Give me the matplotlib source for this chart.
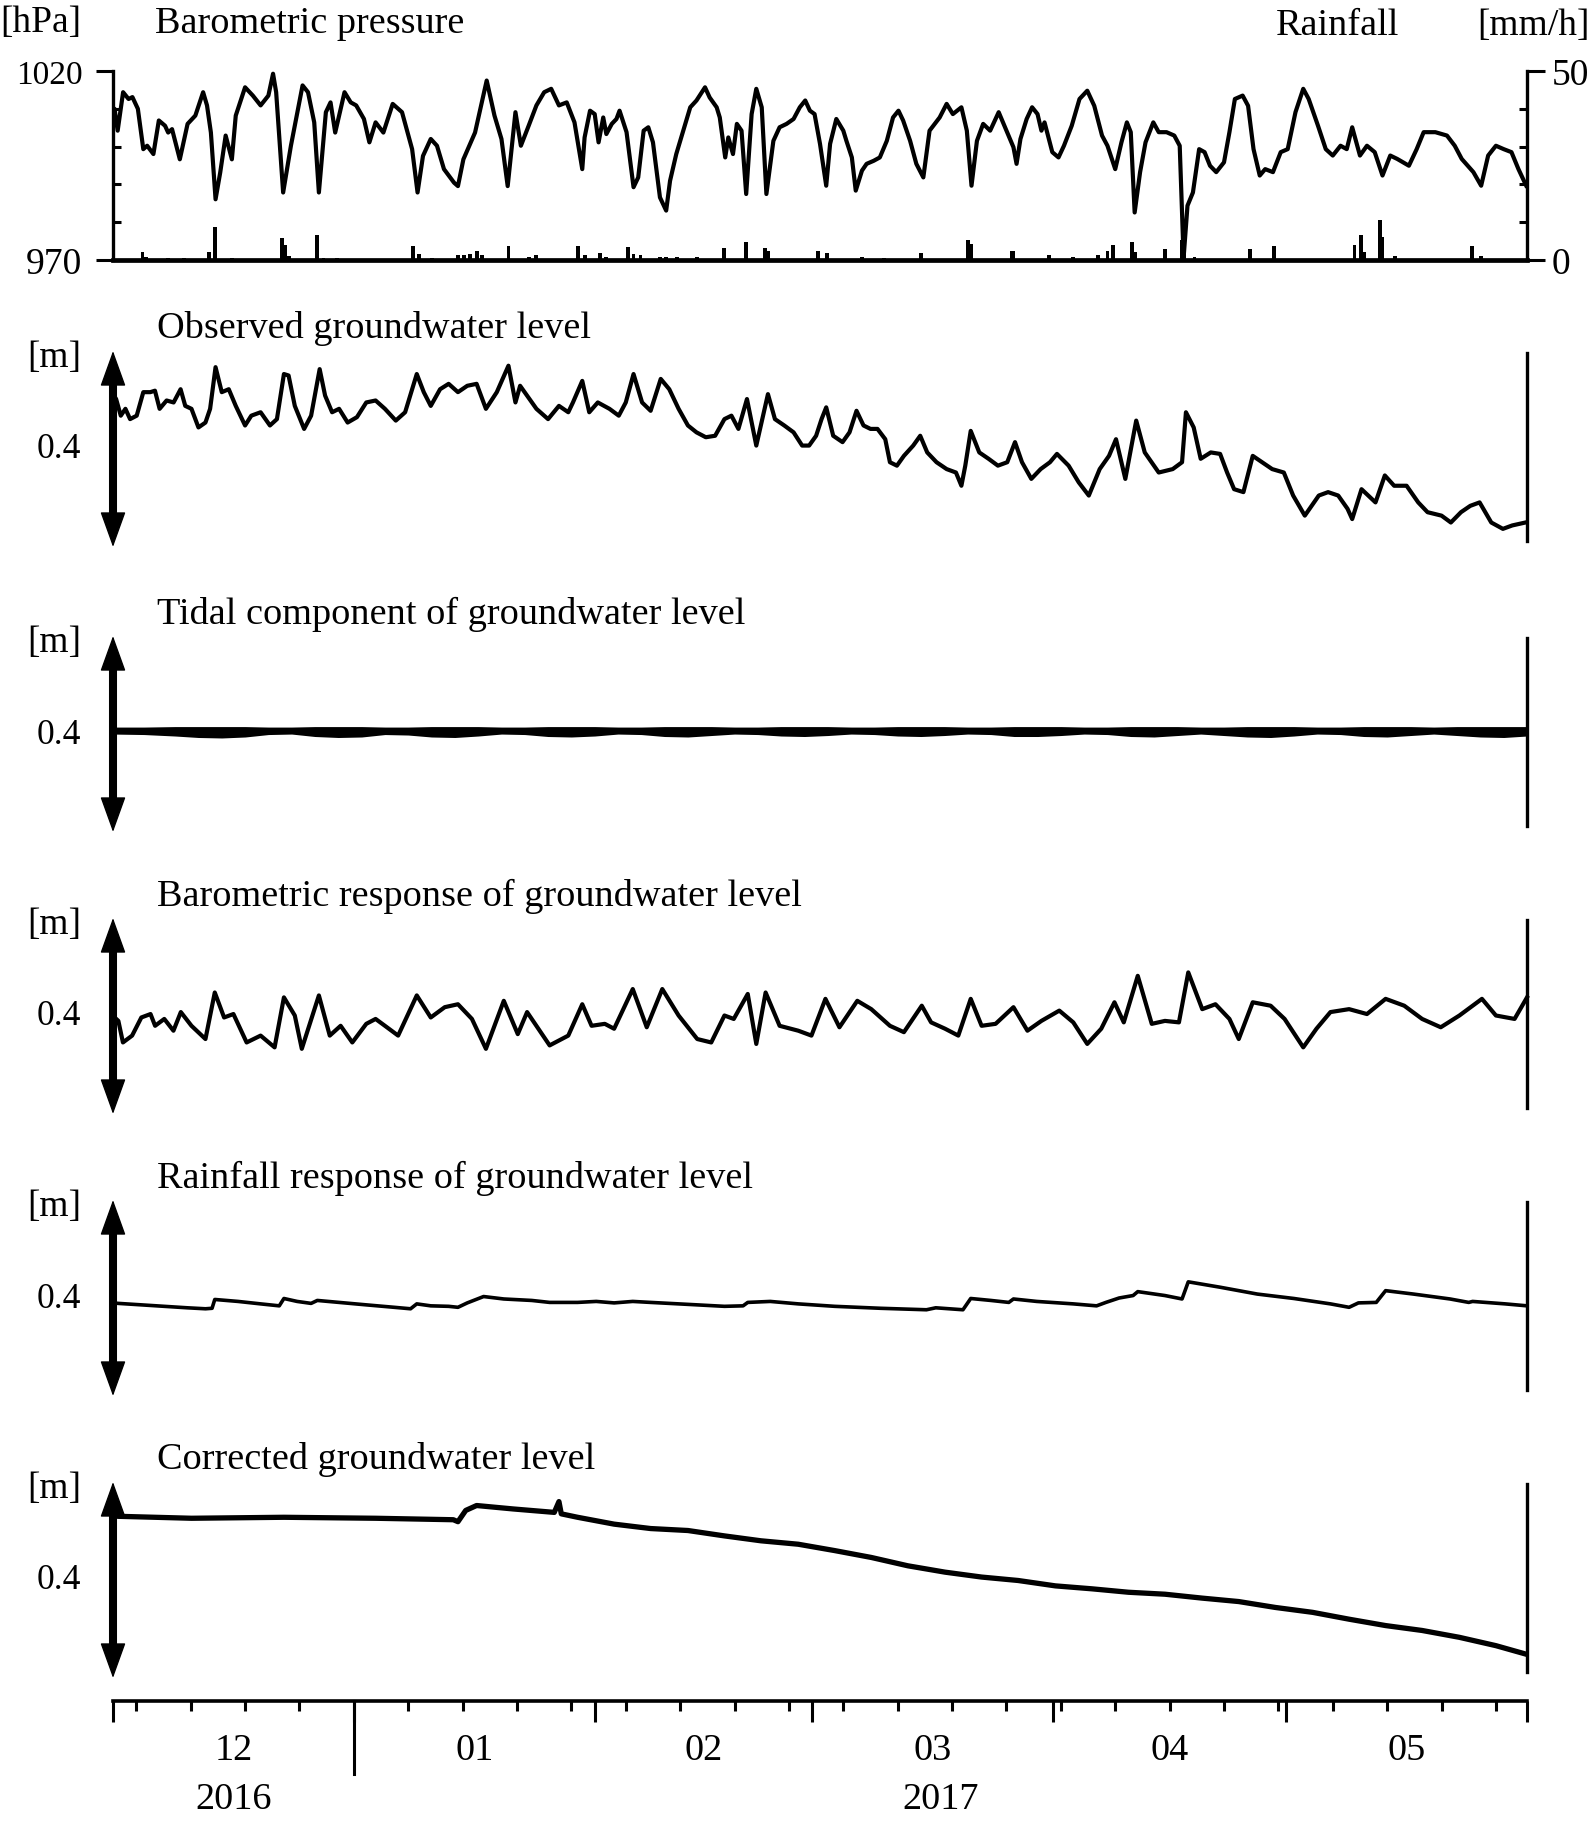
import matplotlib
matplotlib.use("Agg")
import matplotlib.pyplot as plt
import matplotlib.transforms as mtransforms
from matplotlib.lines import Line2D
import numpy as np

plt.rcParams['font.family'] = ['Liberation Serif', 'DejaVu Serif']

# ---- data (x = days since 2016-12-01) ----
# barometric pressure [hPa]
pressure = [
    (0.0, 1008.0), (0.2, 1010.0), (0.6, 1004.2), (1.3, 1014.4), (2.0, 1012.6), (2.5, 1013.1), (3.2, 1010.0),
    (3.9, 999.3), (4.4, 1000.2), (5.2, 998.0), (5.9, 1006.9), (6.7, 1005.5), (7.1, 1003.7), (7.6, 1004.6),
    (8.6, 996.6), (9.6, 1006.0), (10.6, 1008.2), (11.6, 1014.4), (12.1, 1010.9), (12.6, 1003.7), (13.2, 986.0),
    (13.8, 993.1), (14.5, 1002.9), (15.3, 996.6), (15.8, 1008.2), (17.0, 1015.7), (18.0, 1013.5), (19.0, 1010.9),
    (20.0, 1013.5), (20.6, 1019.3), (21.0, 1014.4), (21.9, 987.8), (22.9, 1000.2), (24.4, 1016.2), (25.1, 1014.4),
    (25.9, 1006.4), (26.5, 987.8), (27.4, 1009.1), (28.0, 1011.7), (28.6, 1003.7), (29.8, 1014.4), (30.6, 1011.7),
    (31.3, 1010.9), (32.3, 1007.3), (33.0, 1001.1), (33.8, 1006.4), (34.8, 1003.7), (36.0, 1011.3), (37.2, 1009.1),
    (38.5, 999.3), (39.2, 987.8), (39.9, 997.5), (40.9, 1002.0), (41.7, 1000.2), (42.6, 994.0), (43.9, 990.4),
    (44.4, 989.5), (45.1, 996.6), (46.6, 1003.7), (48.1, 1017.5), (49.1, 1008.2), (50.0, 1002.0), (50.8, 989.5),
    (51.8, 1009.1), (52.5, 1000.2), (53.5, 1005.5), (54.5, 1010.9), (55.5, 1014.4), (56.4, 1015.3), (57.4, 1010.9),
    (58.4, 1011.7), (59.4, 1006.4), (60.4, 994.0), (60.7, 1002.4), (61.4, 1009.5), (62.0, 1008.6), (62.5, 1001.1),
    (63.1, 1007.7), (63.5, 1003.3), (64.2, 1006.0), (64.8, 1007.3), (65.2, 1009.5), (66.1, 1003.8), (67.0, 989.2),
    (67.6, 991.8), (68.3, 1004.2), (68.9, 1005.1), (69.5, 1001.1), (70.4, 986.5), (71.2, 983.0), (71.7, 990.9),
    (72.5, 998.0), (73.4, 1004.2), (74.3, 1010.4), (75.1, 1012.2), (76.2, 1015.7), (76.8, 1013.0), (77.7, 1010.4),
    (78.1, 1007.7), (78.8, 997.1), (79.2, 1002.4), (79.8, 998.0), (80.3, 1006.0), (80.9, 1004.2), (81.5, 987.4),
    (82.2, 1008.6), (82.8, 1015.3), (83.5, 1010.4), (84.1, 987.4), (85.0, 1001.5), (85.8, 1005.1), (86.7, 1006.0),
    (87.6, 1007.3), (88.4, 1010.4), (89.1, 1012.2), (89.7, 1009.5), (90.3, 1008.6), (91.0, 1000.7), (91.8, 989.6),
    (92.3, 1000.7), (93.1, 1007.3), (94.0, 1004.2), (94.4, 1001.5), (95.1, 997.1), (95.6, 988.3), (96.4, 993.6),
    (97.0, 995.4), (97.9, 996.2), (98.7, 997.1), (99.6, 1001.5), (100.4, 1007.7), (101.1, 1009.5), (101.7, 1006.9),
    (102.6, 1001.5), (103.4, 995.4), (104.3, 991.8), (105.1, 1004.2), (106.4, 1007.7), (107.3, 1011.3),
    (108.1, 1008.6), (109.2, 1010.4), (109.9, 1004.2), (110.5, 989.6), (111.2, 1001.5), (112.0, 1006.0),
    (112.9, 1004.2), (114.0, 1009.1), (115.0, 1004.2), (115.9, 999.8), (116.3, 995.4), (116.8, 1002.0),
    (117.6, 1007.3), (118.3, 1010.4), (119.0, 1008.6), (119.5, 1004.2), (119.9, 1006.4), (120.9, 998.5),
    (121.7, 997.1), (122.4, 1000.2), (123.4, 1005.5), (124.4, 1012.6), (125.4, 1014.8), (126.3, 1010.8),
    (127.3, 1002.9), (128.0, 1000.2), (129.0, 994.0), (129.8, 1001.1), (130.5, 1006.4), (131.0, 1003.8),
    (131.5, 982.5), (132.2, 993.2), (132.9, 1001.1), (133.9, 1006.4), (134.6, 1003.8), (135.6, 1003.8),
    (136.6, 1002.9), (137.3, 1000.2), (137.8, 970.5), (138.3, 984.3), (139.0, 987.8), (139.8, 999.3),
    (140.5, 998.5), (141.2, 994.9), (142.0, 993.2), (143.0, 995.8), (143.7, 1003.8), (144.4, 1012.6),
    (145.4, 1013.5), (146.1, 1010.8), (146.8, 999.3), (147.6, 992.3), (148.3, 994.0), (149.3, 993.2),
    (150.3, 998.5), (151.2, 999.3), (152.2, 1009.1), (153.2, 1015.3), (153.9, 1012.6), (155.1, 1005.5),
    (156.1, 999.3), (157.0, 997.6), (158.0, 1000.2), (158.8, 999.3), (159.5, 1005.1), (160.5, 997.6),
    (161.4, 1000.2), (162.4, 998.5), (163.4, 992.3), (164.4, 997.6), (165.3, 996.7), (166.8, 994.9),
    (167.8, 999.3), (168.7, 1003.8), (170.2, 1003.8), (171.7, 1002.9), (172.7, 1000.2), (173.6, 996.7),
    (175.1, 993.2), (176.1, 989.6), (177.0, 997.6), (178.0, 1000.2), (179.0, 999.3), (180.0, 998.5),
    (180.9, 994.0), (181.9, 989.6),
]

# rainfall [mm/h]
rainfall = [
    (3.8, 1.9), (4.2, 0.8), (7.1, 0.4), (9.1, 0.4), (12.3, 1.9), (13.1, 8.6), (15.3, 0.4), (21.8, 5.7),
    (22.2, 4.0), (22.6, 1.0), (26.3, 6.6), (27.1, 0.5), (28.8, 0.4), (38.6, 3.5), (39.4, 1.6), (41.1, 0.5),
    (44.4, 1.3), (45.2, 1.2), (46.0, 1.4), (46.8, 2.2), (47.5, 1.3), (50.9, 3.7), (53.5, 0.8), (54.5, 1.3),
    (59.9, 3.5), (60.7, 1.2), (62.7, 1.7), (63.5, 0.8), (66.3, 3.4), (67.0, 1.5), (67.9, 1.3), (70.4, 0.8),
    (71.2, 0.8), (72.6, 0.8), (75.2, 0.6), (78.6, 3.2), (81.5, 4.8), (83.9, 3.2), (84.3, 2.3), (90.7, 2.2),
    (91.9, 1.7), (96.4, 0.8), (99.2, 0.4), (104.0, 1.7), (110.0, 5.3), (110.4, 4.1), (115.7, 2.4),
    (115.9, 2.2), (120.5, 1.3), (123.6, 0.6), (126.8, 1.3), (128.0, 2.2), (128.7, 4.0), (131.2, 4.6),
    (131.6, 2.0), (135.4, 2.7), (137.6, 5.3), (137.9, 3.5), (139.2, 0.7), (146.3, 2.7), (149.4, 3.7),
    (159.8, 4.0), (160.6, 6.6), (161.0, 2.0), (163.1, 10.6), (163.4, 6.0), (165.0, 1.0), (174.9, 3.7),
    (176.1, 1.0),
]

# groundwater series [m], relative to the bottom of each 0.4 m scale bar
observed = [
    (0.0, 0.312), (0.4, 0.302), (1.0, 0.268), (1.6, 0.282), (2.2, 0.261), (3.05, 0.268), (3.9, 0.316),
    (4.8, 0.316), (5.4, 0.319), (6.0, 0.282), (6.9, 0.299), (7.8, 0.295), (8.7, 0.322), (9.3, 0.288),
    (10.1, 0.282), (11.0, 0.244), (11.9, 0.254), (12.5, 0.282), (13.2, 0.367), (14.0, 0.316), (14.9, 0.322),
    (15.8, 0.288), (17.0, 0.248), (17.8, 0.268), (19.0, 0.275), (20.2, 0.248), (21.1, 0.261), (22.0, 0.353),
    (22.6, 0.350), (23.4, 0.288), (24.6, 0.241), (25.5, 0.268), (26.6, 0.363), (27.3, 0.309), (28.2, 0.275),
    (29.1, 0.282), (30.2, 0.254), (31.4, 0.265), (32.6, 0.295), (33.8, 0.299), (35.0, 0.282), (36.4, 0.258),
    (37.6, 0.275), (39.1, 0.353), (40.0, 0.316), (40.9, 0.288), (42.1, 0.322), (43.2, 0.333), (44.4, 0.316),
    (45.6, 0.329), (46.8, 0.333), (48.0, 0.282), (49.4, 0.316), (50.9, 0.370), (51.8, 0.295), (52.4, 0.329),
    (53.3, 0.309), (54.5, 0.282), (56.0, 0.261), (57.4, 0.288), (58.6, 0.275), (59.2, 0.295), (60.4, 0.339),
    (61.3, 0.275), (62.4, 0.295), (63.9, 0.282), (65.1, 0.268), (66.0, 0.295), (67.0, 0.353), (68.1, 0.295),
    (69.2, 0.278), (70.5, 0.343), (71.6, 0.322), (72.8, 0.282), (74.0, 0.248), (75.1, 0.234), (76.3, 0.224),
    (77.5, 0.227), (78.7, 0.261), (79.6, 0.268), (80.5, 0.241), (81.6, 0.302), (82.8, 0.207), (84.3, 0.312),
    (85.2, 0.261), (86.4, 0.248), (87.6, 0.234), (88.7, 0.207), (89.6, 0.207), (90.5, 0.227), (91.2, 0.261),
    (91.8, 0.285), (92.7, 0.227), (93.9, 0.214), (94.8, 0.234), (95.7, 0.278), (96.6, 0.248), (97.5, 0.241),
    (98.4, 0.241), (99.4, 0.220), (100.0, 0.173), (100.9, 0.166), (101.8, 0.186), (103.0, 0.207),
    (103.9, 0.227), (104.8, 0.193), (106.0, 0.173), (107.3, 0.159), (108.5, 0.152), (109.2, 0.125),
    (109.7, 0.166), (110.4, 0.237), (111.5, 0.193), (112.7, 0.180), (113.9, 0.166), (115.1, 0.173),
    (116.1, 0.214), (117.0, 0.173), (118.2, 0.139), (119.4, 0.159), (120.6, 0.173), (121.5, 0.190),
    (123.0, 0.166), (124.3, 0.132), (125.6, 0.105), (127.0, 0.159), (128.2, 0.186), (129.1, 0.220),
    (130.3, 0.139), (131.7, 0.258), (132.8, 0.193), (134.6, 0.152), (136.4, 0.159), (137.6, 0.173),
    (138.1, 0.275), (139.1, 0.244), (140.0, 0.180), (141.3, 0.193), (142.5, 0.190), (143.4, 0.152),
    (144.3, 0.118), (145.5, 0.112), (146.7, 0.186), (147.9, 0.173), (149.2, 0.159), (150.7, 0.152),
    (151.9, 0.105), (153.4, 0.064), (155.2, 0.105), (156.4, 0.112), (157.7, 0.105), (158.9, 0.078),
    (159.5, 0.057), (160.7, 0.118), (162.5, 0.091), (163.7, 0.146), (164.9, 0.125), (166.5, 0.125),
    (168.0, 0.091), (169.2, 0.071), (171.0, 0.064), (172.2, 0.050), (173.5, 0.071), (174.7, 0.084),
    (175.9, 0.091), (177.4, 0.050), (178.9, 0.037), (180.1, 0.044), (181.8, 0.050),
]

# tidal component: upper / lower edge of the oscillation band
tide_day = [0, 4, 8, 11, 14, 17, 20, 23, 26, 29, 32, 35, 38, 41, 44, 47, 50, 53, 56, 59, 62, 65, 68, 71,
            74, 77, 80, 83, 86, 89, 92, 95, 98, 101, 104, 107, 110, 113, 116, 119, 122, 125, 128, 131,
            134, 137, 140, 143, 146, 149, 152, 155, 158, 161, 164, 167, 170, 173, 176, 179, 182]
tide_lo = [0.202, 0.201, 0.198, 0.195, 0.194, 0.196, 0.201, 0.202, 0.197, 0.195, 0.196, 0.201, 0.200,
           0.196, 0.195, 0.198, 0.202, 0.201, 0.197, 0.196, 0.198, 0.202, 0.201, 0.197, 0.196, 0.199,
           0.202, 0.201, 0.198, 0.197, 0.199, 0.202, 0.201, 0.198, 0.197, 0.199, 0.202, 0.201, 0.197,
           0.197, 0.199, 0.202, 0.201, 0.197, 0.196, 0.199, 0.202, 0.199, 0.196, 0.195, 0.198, 0.202,
           0.201, 0.197, 0.196, 0.199, 0.202, 0.199, 0.196, 0.195, 0.198]
tide_hi = [0.212, 0.212, 0.213, 0.213, 0.213, 0.213, 0.212, 0.212, 0.213, 0.213, 0.213, 0.212, 0.212,
           0.213, 0.213, 0.213, 0.212, 0.212, 0.213, 0.213, 0.213, 0.212, 0.212, 0.213, 0.213, 0.213,
           0.212, 0.212, 0.213, 0.213, 0.213, 0.212, 0.212, 0.213, 0.213, 0.213, 0.212, 0.212, 0.213,
           0.213, 0.213, 0.212, 0.212, 0.213, 0.213, 0.213, 0.212, 0.212, 0.213, 0.213, 0.213, 0.212,
           0.212, 0.213, 0.213, 0.213, 0.212, 0.213, 0.213, 0.213, 0.213]

baro_response = [
    (0.0, 0.200), (0.69, 0.190), (1.28, 0.146), (2.46, 0.160), (3.65, 0.197), (4.83, 0.204), (5.42, 0.180),
    (6.60, 0.194), (7.78, 0.170), (8.73, 0.208), (10.1, 0.180), (11.9, 0.153), (13.1, 0.248), (14.3, 0.197),
    (15.5, 0.204), (17.2, 0.146), (19.0, 0.160), (20.8, 0.136), (22.0, 0.238), (23.4, 0.201), (24.3, 0.133),
    (26.5, 0.242), (27.9, 0.160), (29.3, 0.180), (30.8, 0.146), (32.6, 0.184), (33.8, 0.194), (35.0, 0.180),
    (36.7, 0.160), (39.1, 0.242), (40.9, 0.197), (42.7, 0.218), (44.4, 0.224), (46.2, 0.194), (48.0, 0.133),
    (50.3, 0.231), (52.1, 0.163), (53.3, 0.208), (56.2, 0.140), (58.6, 0.160), (60.4, 0.224), (61.6, 0.180),
    (63.3, 0.184), (64.5, 0.174), (66.9, 0.255), (68.7, 0.177), (70.7, 0.255), (72.8, 0.201), (75.2, 0.153),
    (77.0, 0.146), (78.7, 0.201), (79.9, 0.194), (81.7, 0.245), (82.8, 0.143), (84.0, 0.248), (85.8, 0.180),
    (88.2, 0.170), (89.9, 0.160), (91.7, 0.235), (93.5, 0.177), (95.8, 0.231), (97.6, 0.214), (100.0, 0.180),
    (101.8, 0.167), (104.1, 0.221), (105.3, 0.187), (107.1, 0.174), (108.8, 0.160), (110.4, 0.235),
    (111.8, 0.180), (113.6, 0.184), (115.9, 0.218), (117.7, 0.170), (119.5, 0.190), (121.8, 0.211),
    (123.6, 0.187), (125.4, 0.143), (127.2, 0.174), (128.9, 0.228), (130.1, 0.187), (131.9, 0.282),
    (133.7, 0.184), (135.4, 0.190), (137.2, 0.187), (138.4, 0.289), (140.2, 0.214), (141.9, 0.224),
    (143.7, 0.194), (144.9, 0.153), (146.7, 0.228), (149.0, 0.221), (150.8, 0.194), (153.2, 0.136),
    (154.9, 0.174), (156.7, 0.208), (159.1, 0.214), (161.4, 0.204), (163.8, 0.235), (166.2, 0.221),
    (168.5, 0.194), (170.9, 0.177), (173.3, 0.201), (176.2, 0.235), (178.0, 0.201), (180.4, 0.194),
    (182.0, 0.238),
]

rain_response = [
    (0.0, 0.190), (0.69, 0.189), (3.65, 0.186), (6.60, 0.183), (9.56, 0.180), (11.9, 0.178), (12.75, 0.179),
    (13.1, 0.197), (16.1, 0.193), (19.0, 0.188), (21.4, 0.184), (22.0, 0.199), (23.7, 0.193), (25.5, 0.189),
    (26.3, 0.195), (29.1, 0.191), (32.6, 0.186), (36.2, 0.181), (38.3, 0.178), (39.1, 0.188), (40.9, 0.184),
    (43.2, 0.183), (44.4, 0.181), (45.6, 0.190), (47.7, 0.203), (50.3, 0.198), (53.9, 0.195), (56.2, 0.191),
    (59.8, 0.191), (62.2, 0.193), (64.5, 0.190), (66.9, 0.193), (69.2, 0.191), (74.0, 0.187), (78.7, 0.183),
    (81.1, 0.184), (81.7, 0.191), (84.6, 0.193), (88.2, 0.188), (92.9, 0.183), (98.8, 0.179), (104.7, 0.176),
    (105.9, 0.180), (109.4, 0.176), (110.4, 0.199), (113.0, 0.195), (115.3, 0.191), (115.9, 0.198),
    (118.9, 0.193), (123.6, 0.188), (126.6, 0.184), (127.8, 0.191), (129.5, 0.200), (131.3, 0.205),
    (131.9, 0.213), (135.4, 0.205), (137.6, 0.198), (138.4, 0.233), (142.5, 0.222), (147.3, 0.208),
    (152.0, 0.199), (156.7, 0.188), (159.1, 0.181), (160.3, 0.190), (162.6, 0.191), (163.8, 0.215),
    (167.4, 0.208), (172.1, 0.198), (174.5, 0.191), (175.0, 0.193), (179.2, 0.188), (182.0, 0.184),
]

corrected = [
    (0.0, 0.331), (0.69, 0.330), (10.1, 0.326), (22.0, 0.328), (33.8, 0.326), (43.8, 0.323), (44.4, 0.319),
    (45.4, 0.342), (46.8, 0.352), (51.5, 0.345), (56.8, 0.338), (57.4, 0.360), (57.7, 0.335), (59.8, 0.328),
    (64.5, 0.314), (69.2, 0.305), (74.0, 0.301), (78.7, 0.290), (83.4, 0.280), (88.2, 0.273), (92.9, 0.260),
    (97.6, 0.246), (102.3, 0.229), (107.1, 0.216), (111.8, 0.206), (116.5, 0.199), (121.3, 0.188),
    (126.0, 0.182), (130.7, 0.175), (135.4, 0.171), (140.2, 0.163), (144.9, 0.156), (149.6, 0.144),
    (154.4, 0.134), (159.1, 0.120), (163.8, 0.107), (168.5, 0.097), (173.3, 0.083), (178.0, 0.066),
    (181.8, 0.049),
]

month_start = [0, 31, 62, 90, 121, 151, 182]
week_ticks = [3, 10, 17, 24, 31, 38, 45, 52, 59, 66, 73, 80, 87, 94, 101, 108, 115, 122, 129, 136,
              143, 150, 157, 164, 171, 178]
month_mid = [15.5, 46.5, 76.0, 105.5, 136.0, 166.5]
month_labels = ['12', '01', '02', '03', '04', '05']
year_mid = [15.5, 106.5]
year_labels = ['2016', '2017']
year_break = 31

panel_titles = ['Observed groundwater level',
                'Tidal component of groundwater level',
                'Barometric response of groundwater level',
                'Rainfall response of groundwater level',
                'Corrected groundwater level']

# ---- layout (pixels of the 1594x1824 output) ----
W, H = 1594, 1824
X0, X1 = 113, 1527
XMAX = 182


def fig_box(top, bottom):
    return [X0 / W, 1 - bottom / H, (X1 - X0) / W, (bottom - top) / H]


def fy(y):
    return 1 - y / H


fig = plt.figure(figsize=(W / 100, H / 100), dpi=100)

# ---- top panel: pressure + rainfall ----
axp = fig.add_axes(fig_box(72.1, 260.6))
pd_, pv_ = np.array(pressure).T
axp.plot(pd_, pv_, color='black', lw=3.0)
axp.set_ylim(970, 1020)
for s in ['top', 'right']:
    axp.spines[s].set_visible(False)
axp.spines['left'].set_linewidth(2.4)
axp.spines['bottom'].set_linewidth(3.4)
axp.set_yticks([970, 1020])
axp.set_yticklabels(['970', '1020'])
axp.set_yticks([980, 990, 1000, 1010], minor=True)
axp.tick_params(axis='y', which='major', direction='out', length=12, width=2.2, pad=10)
axp.tick_params(axis='y', which='minor', direction='in', length=6, width=2.2)
for lab, size in zip(axp.get_yticklabels(), [27, 24]):
    lab.set_fontsize(size)

axr = axp.twinx()
rd_, rv_ = np.array(rainfall).T
axr.bar(rd_, rv_, width=0.5, color='black', lw=0)
axr.set_ylim(0, 50)
for s in ['top', 'left', 'bottom']:
    axr.spines[s].set_visible(False)
axr.spines['right'].set_linewidth(2.4)
axr.set_yticks([0, 50])
axr.set_yticklabels(['0', '50'])
axr.set_yticks([10, 20, 30, 40], minor=True)
axr.tick_params(axis='y', which='major', direction='out', length=13, width=2.2, pad=5, labelsize=27)
axr.tick_params(axis='y', which='minor', direction='in', length=6, width=2.2)
axp.set_xlim(0, XMAX)
axp.set_xticks([])

fig.text(0 / W, fy(23), '[hPa]', fontsize=27, ha='left', va='center')
fig.text(155 / W, fy(24), 'Barometric pressure', fontsize=27.5, ha='left', va='center')
fig.text(1276 / W, fy(26), 'Rainfall', fontsize=27.5, ha='left', va='center')
fig.text(1590 / W, fy(26), '[mm/h]', fontsize=27, ha='right', va='center')

# ---- groundwater panels ----
panel_tops = [352, 637, 919, 1201, 1483]
series = [observed, None, baro_response, rain_response, corrected]
widths = [3.0, 2.0, 3.0, 2.6, 3.8]

for top, title, data, lw in zip(panel_tops, panel_titles, series, widths):
    ax = fig.add_axes(fig_box(top, top + 196))
    ax.set_xlim(0, XMAX)
    ax.set_ylim(0, 0.4)
    ax.axis('off')
    if data is None:
        ax.fill_between(tide_day, tide_lo, tide_hi, color='black', lw=1.5)
    else:
        d_, v_ = np.array(data).T
        ax.plot(d_, v_, color='black', lw=lw, clip_on=False)
    # 0.4 m scale bar
    ax.plot([0, 0], [0.03, 0.37], color='black', lw=5.8, solid_capstyle='butt', clip_on=False)
    ax.annotate('', xy=(0, 0.4), xytext=(0, 0), xycoords='data',
                arrowprops=dict(arrowstyle='<|-|>,head_length=1.0,head_width=0.36',
                                mutation_scale=23, lw=1, color='black',
                                shrinkA=0, shrinkB=0),
                annotation_clip=False)
    ax.plot([XMAX, XMAX], [0.012, 0.395], color='black', lw=2.4, clip_on=False)
    fig.text(157 / W, fy(top - 23), title, fontsize=27.5, ha='left', va='center')
    fig.text(81 / W, fy(top + 6), '[m]', fontsize=27, ha='right', va='center')
    fig.text(81 / W, fy(top + 98), '0.4', fontsize=25.5, ha='right', va='center')

# ---- time axis ----
axb = fig.add_axes([X0 / W, fy(1702), (X1 - X0) / W, 0.0005])
axb.set_xlim(0, XMAX)
axb.set_ylim(0, 1)
for s in ['top', 'left', 'right']:
    axb.spines[s].set_visible(False)
axb.spines['bottom'].set_linewidth(2.6)
axb.set_yticks([])
axb.set_xticks(month_start)
axb.set_xticklabels([])
axb.set_xticks(week_ticks, minor=True)
axb.tick_params(axis='x', which='major', direction='out', length=15, width=2.2)
axb.tick_params(axis='x', which='minor', direction='out', length=7, width=2.2)

bt = mtransforms.blended_transform_factory(axb.transData, fig.transFigure)
fig.add_artist(Line2D([year_break, year_break], [fy(1702), fy(1775)], transform=bt,
                      color='black', lw=2.2))
for d, lab in zip(month_mid, month_labels):
    axb.text(d, fy(1751), lab, transform=bt, fontsize=27.5, ha='center', va='center')
for d, lab in zip(year_mid, year_labels):
    axb.text(d, fy(1800), lab, transform=bt, fontsize=27.5, ha='center', va='center')

fig.savefig('out.png', dpi=100)
